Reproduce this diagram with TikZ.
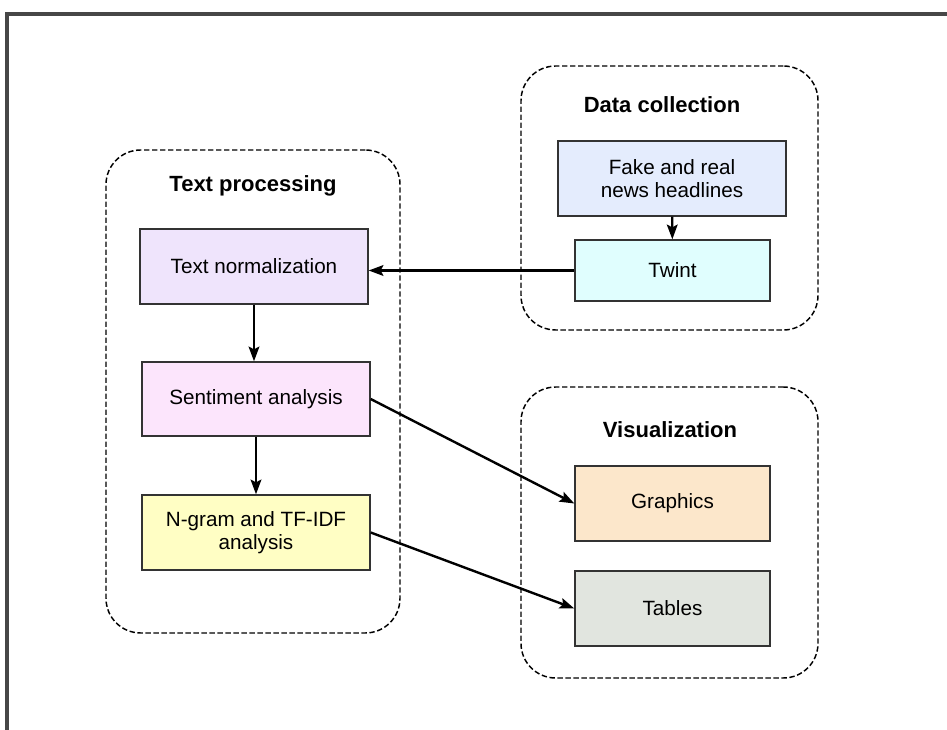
\documentclass[tikz,border=0pt]{standalone}
\usepackage{fontspec}
\setmainfont{Liberation Sans}
\usetikzlibrary{arrows.meta, positioning}

\definecolor{fakefill}{HTML}{E4ECFD}
\definecolor{twintfill}{HTML}{E0FEFE}
\definecolor{normfill}{HTML}{EFE4FC}
\definecolor{sentfill}{HTML}{FCE5FC}
\definecolor{ngramfill}{HTML}{FFFEC4}
\definecolor{graphfill}{HTML}{FCE7CB}
\definecolor{tablefill}{HTML}{E1E5DF}
\definecolor{framegray}{HTML}{474747}

\tikzset{
	stagebox/.style={draw=black!80, line width=1pt, align=center, font=\fontsize{15.5}{17.5}\selectfont, minimum height=56.25pt},
	groupbox/.style={draw, line width=1.1pt, dash pattern=on 4pt off 2pt, rounded corners=26pt},
	grouptitle/.style={font=\fontsize{16.5}{19}\selectfont\bfseries},
	flow/.style={-{Stealth[length=11pt, width=8pt, inset=2pt]}, line width=1.8pt}
}

\begin{document}
\begin{tikzpicture}[x=0.75pt, y=-0.75pt]
	\useasboundingbox (0,0) rectangle (947,730);
	\draw[framegray, line width=2.4pt] (5,14) -- (947,14);
	\draw[framegray, line width=2.4pt] (7,14) -- (7,730);

	% groups
	\node[groupbox, minimum width=222.75pt, minimum height=198pt] (collect) at (669.5,198) {};
	\node[groupbox, minimum width=220.5pt, minimum height=362.25pt] (process) at (253,391.5) {};
	\node[groupbox, minimum width=222.75pt, minimum height=218.25pt] (visual) at (669.5,532.5) {};
	\node[grouptitle] (collecttitle) at (662,105) {Data collection};
	\node[grouptitle] (processtitle) at (253,186) {Text processing};
	\node[grouptitle] (visualtitle) at (670,430) {Visualization};

	% stages
	\node[stagebox, fill=fakefill, minimum width=171pt] (fake) at (672,178.5) {Fake and real\\news headlines};
	\node[stagebox, fill=twintfill, minimum width=146.25pt, minimum height=45.75pt] (twint) at (672.5,270.5) {Twint};
	\node[stagebox, fill=normfill, minimum width=171pt] (norm) at (254,266.5) {Text normalization};
	\node[stagebox, fill=sentfill, minimum width=171pt, minimum height=55.5pt] (sent) at (256,399) {Sentiment analysis};
	\node[stagebox, fill=ngramfill, minimum width=171pt] (ngram) at (256,532.5) {N-gram and TF-IDF\\analysis};
	\node[stagebox, fill=graphfill, minimum width=146.25pt] (graph) at (672.5,503.5) {Graphics};
	\node[stagebox, fill=tablefill, minimum width=146.25pt] (tables) at (672.5,608.5) {Tables};

	\draw[flow] (fake) -- (twint);
	\draw[flow] (twint.west) -- (twint.west -| norm.east);
	\draw[flow] (norm) -- (norm |- sent.north);
	\draw[flow] (sent) -- (ngram);
	\draw[flow] (sent.east) -- (graph.west);
	\draw[flow] (ngram.east) -- (tables.west);
\end{tikzpicture}
\end{document}
